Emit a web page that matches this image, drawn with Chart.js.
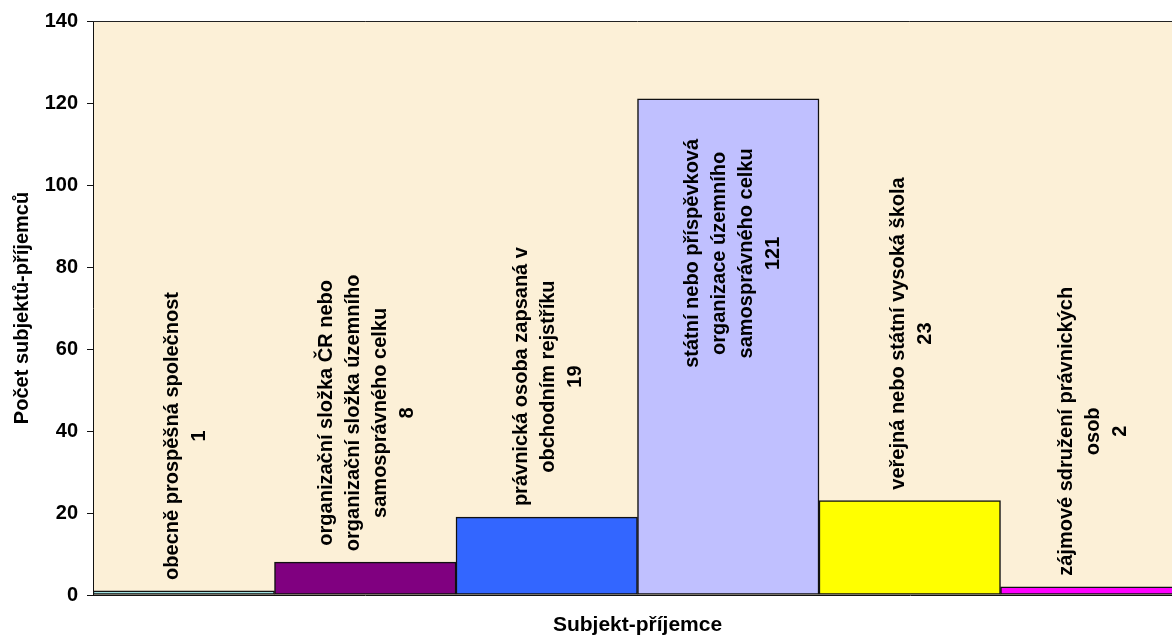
<!DOCTYPE html>
<html>
<head>
<meta charset="utf-8">
<script src="https://cdn.jsdelivr.net/npm/chart.js@4"></script>
<style>
    html, body { margin: 0; padding: 0; background: #fff; overflow: hidden; }
    #wrap { width: 1182px; height: 638px; position: relative; }
</style>
</head>
<body>
<div id="wrap"><canvas id="subjektChart"></canvas></div>
<script>
// Data z grafu
const categories = [
    ['obecně prospěšná společnost'],
    ['organizační složka ČR nebo', 'organizační složka územního', 'samosprávného celku'],
    ['právnická osoba zapsaná v', 'obchodním rejstříku'],
    ['státní nebo příspěvková', 'organizace územního', 'samosprávného celku'],
    ['veřejná nebo státní vysoká škola'],
    ['zájmové sdružení právnických', 'osob']
];
const counts = [1, 8, 19, 121, 23, 2];
const barColors = ['#a0e0e0', '#800080', '#3366ff', '#c0c0ff', '#ffff00', '#ff00ff'];
const yTicks = [0, 20, 40, 60, 80, 100, 120, 140];

const FONT = "'Liberation Sans', Arial, sans-serif";

// pozadí plochy grafu + horní rámeček
const plotBackground = {
    id: 'plotBackground',
    beforeDraw(chart) {
        const { ctx, chartArea: a } = chart;
        ctx.save();
        ctx.fillStyle = '#fcf0d7';
        ctx.fillRect(a.left, a.top, a.right - a.left, a.bottom - a.top);
        ctx.restore();
    },
    afterDraw(chart) {
        const { ctx, chartArea: a } = chart;
        ctx.save();
        ctx.strokeStyle = '#222';
        ctx.lineWidth = 1;
        ctx.beginPath();
        ctx.moveTo(a.left, a.top + 0.5);
        ctx.lineTo(a.right, a.top + 0.5);
        ctx.stroke();
        ctx.restore();
    }
};

// svislé popisky nad sloupci (název + hodnota)
const barLabels = {
    id: 'barLabels',
    afterDatasetsDraw(chart) {
        const { ctx, chartArea: a } = chart;
        const meta = chart.getDatasetMeta(0);
        const lineGap = 27;
        ctx.save();
        ctx.font = 'bold 20px ' + FONT;
        ctx.fillStyle = '#000';
        ctx.textAlign = 'center';
        ctx.textBaseline = 'middle';
        meta.data.forEach((bar, i) => {
            const lines = categories[i].concat([String(counts[i])]);
            const maxLen = Math.max(...lines.map(l => ctx.measureText(l).width));
            let yc = bar.y - 11 - maxLen / 2;
            let dx = 2;
            if (yc - maxLen / 2 < a.top) {
                // nevejde se nad sloupec -> dovnitř
                yc = bar.y + 40 + maxLen / 2;
                dx = 5;
            }
            lines.forEach((line, k) => {
                const x = bar.x + dx + (k - (lines.length - 1) / 2) * lineGap;
                ctx.save();
                ctx.translate(x, yc);
                ctx.rotate(-Math.PI / 2);
                ctx.fillText(line, 0, 0);
                ctx.restore();
            });
        });
        ctx.restore();
    }
};

const ctx = document.getElementById('subjektChart');
new Chart(ctx, {
    type: 'bar',
    data: {
        labels: categories.map(c => c.join(' ')),
        datasets: [{
            label: 'Počet subjektů-příjemců',
            data: counts,
            backgroundColor: barColors,
            borderColor: '#111',
            borderWidth: 1.5,
            borderSkipped: false,
            barPercentage: 1,
            categoryPercentage: 1
        }]
    },
    options: {
        responsive: true,
        maintainAspectRatio: false,
        animation: false,
        layout: { padding: { top: 21, left: 0, right: 0, bottom: 0 } },
        plugins: {
            legend: { display: false },
            tooltip: { enabled: false }
        },
        scales: {
            x: {
                ticks: { display: false },
                grid: { display: false },
                border: { display: true, color: '#111', width: 1 },
                title: {
                    display: true,
                    text: 'Subjekt-příjemce',
                    color: '#000',
                    font: { family: FONT, size: 21, weight: 'bold' },
                    padding: { top: 0, bottom: 0 }
                },
                afterFit(scale) { scale.height = 43; }
            },
            y: {
                min: 0,
                max: 140,
                afterBuildTicks(scale) {
                    scale.ticks = yTicks.map(v => ({ value: v }));
                },
                ticks: {
                    color: '#000',
                    padding: 9,
                    font: { family: FONT, size: 20, weight: 'bold' }
                },
                grid: {
                    display: true,
                    drawOnChartArea: false,
                    drawTicks: true,
                    tickLength: 6,
                    tickColor: '#111'
                },
                border: { display: true, color: '#111', width: 1 },
                title: {
                    display: true,
                    text: 'Počet subjektů-příjemců',
                    color: '#000',
                    font: { family: FONT, size: 20, weight: 'bold' },
                    padding: { top: 10, bottom: 0 }
                },
                afterFit(scale) { scale.width = 93; }
            }
        }
    },
    plugins: [plotBackground, barLabels]
});
</script>
</body>
</html>
